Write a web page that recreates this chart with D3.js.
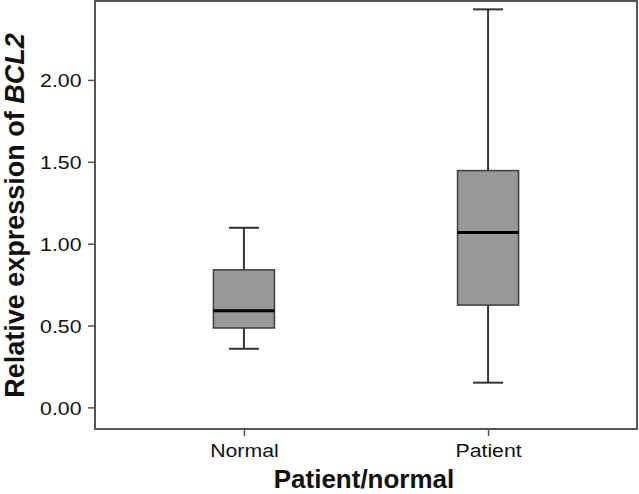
<!DOCTYPE html>
<html>
<head>
<meta charset="utf-8">
<script src="https://cdn.jsdelivr.net/npm/d3@7"></script>
<style>
  html, body { margin: 0; padding: 0; background: #fff; }
  svg { display: block; }
  text { font-family: Arial, "Liberation Sans", Helvetica, sans-serif; }
</style>
</head>
<body>
<svg id="chart" width="639" height="494"></svg>
<script>
// ---- data ----
const categories = ["Normal", "Patient"];
const whiskerLow  = [0.358, 0.151];
const q1          = [0.485, 0.625];
const median      = [0.590, 1.068];
const q3          = [0.840, 1.446];
const whiskerHigh = [1.097, 2.431];
const yTicks      = [0.00, 0.50, 1.00, 1.50, 2.00];
const yDomain     = [-0.132, 2.482];
const xTitle = "Patient/normal";
const yTitleMain = "Relative expression of ";
const yTitleGene = "BCL2";

// ---- layout ----
const svg = d3.select("#chart");
const plot = { left: 95, right: 637, top: 1, bottom: 429 };
const frameColor = "#555";
const tickFont = 18.5, stretch = 1.15;

const x = d3.scalePoint().domain(categories).range([plot.left, plot.right]).padding(0.61);
const y = d3.scaleLinear().domain(yDomain).range([plot.bottom, plot.top]);

// axes
const yAxis = d3.axisLeft(y).tickValues(yTicks).tickFormat(d3.format(".2f")).tickSize(7).tickPadding(6);
const gy = svg.append("g").attr("transform", `translate(${plot.left},0)`).call(yAxis);
gy.select(".domain").remove();
gy.selectAll(".tick line").attr("stroke", frameColor).attr("stroke-width", 1.5);
gy.selectAll(".tick text")
  .attr("font-size", tickFont).attr("fill", "#111").attr("dy", "0.36em")
  .attr("x", -13.5 / stretch).attr("transform", `scale(${stretch},1)`);

const xAxis = d3.axisBottom(x).tickSize(7).tickPadding(6);
const gx = svg.append("g").attr("transform", `translate(0,${plot.bottom})`).call(xAxis);
gx.select(".domain").remove();
gx.selectAll(".tick line").attr("stroke", frameColor).attr("stroke-width", 1.5);
gx.selectAll(".tick text")
  .attr("font-size", tickFont).attr("fill", "#111").attr("dy", "0.81em")
  .attr("transform", `scale(${stretch},1)`);

// frame
svg.append("rect")
  .attr("x", plot.left).attr("y", plot.top)
  .attr("width", plot.right - plot.left).attr("height", plot.bottom - plot.top)
  .attr("fill", "none").attr("stroke", frameColor).attr("stroke-width", 2);

// boxes
const boxW = 61, capW = 30;
const data = categories.map((c, i) => ({
  c, lo: whiskerLow[i], q1: q1[i], med: median[i], q3: q3[i], hi: whiskerHigh[i]
}));
const g = svg.append("g");
const lineColor = "#333";
data.forEach(d => {
  const cx = x(d.c);
  g.append("line").attr("x1", cx).attr("x2", cx).attr("y1", y(d.hi)).attr("y2", y(d.q3))
    .attr("stroke", lineColor).attr("stroke-width", 2);
  g.append("line").attr("x1", cx).attr("x2", cx).attr("y1", y(d.q1)).attr("y2", y(d.lo))
    .attr("stroke", lineColor).attr("stroke-width", 2);
  [d.hi, d.lo].forEach(v => {
    g.append("line").attr("x1", cx - capW / 2).attr("x2", cx + capW / 2).attr("y1", y(v)).attr("y2", y(v))
      .attr("stroke", lineColor).attr("stroke-width", 2);
  });
  g.append("rect").attr("x", cx - boxW / 2).attr("width", boxW)
    .attr("y", y(d.q3)).attr("height", y(d.q1) - y(d.q3))
    .attr("fill", "#999999").attr("stroke", "#444").attr("stroke-width", 1.6);
  g.append("line").attr("x1", cx - boxW / 2).attr("x2", cx + boxW / 2).attr("y1", y(d.med)).attr("y2", y(d.med))
    .attr("stroke", "#000").attr("stroke-width", 3);
});

// titles
svg.append("text")
  .attr("x", (plot.left + plot.right) / 2 - 2).attr("y", 488)
  .attr("text-anchor", "middle").attr("font-size", 26).attr("font-weight", "bold").attr("fill", "#111")
  .text(xTitle);

const yt = svg.append("text")
  .attr("transform", `translate(24,${(31 + 400) / 2}) rotate(-90)`)
  .attr("text-anchor", "middle").attr("font-size", 27).attr("font-weight", "bold").attr("fill", "#111");
yt.append("tspan").text(yTitleMain);
yt.append("tspan").attr("font-style", "italic").text(yTitleGene);
</script>
</body>
</html>
